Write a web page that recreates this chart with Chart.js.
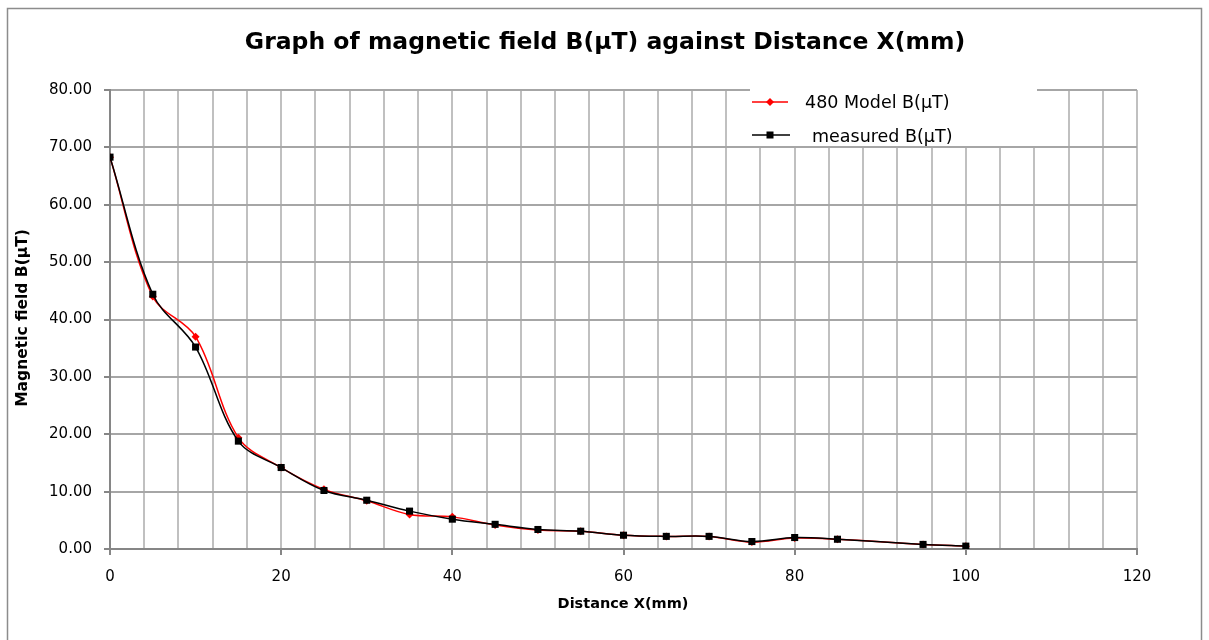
<!DOCTYPE html>
<html>
<head>
<meta charset="utf-8">
<script src="https://cdn.jsdelivr.net/npm/chart.js@4"></script>
<style>
  html, body { margin: 0; padding: 0; background: #fff; }
  canvas { display: block; }
</style>
</head>
<body>
<canvas id="fieldChart" width="1209" height="640"></canvas>
<script>
// distance in mm
const distance = [0, 5, 10, 15, 20, 25, 30, 35, 40, 45, 50, 55, 60, 65, 70, 75, 80, 85, 95, 100];
// B in microtesla
const modelB = [68.3, 44.0, 37.0, 19.4, 14.2, 10.4, 8.4, 6.0, 5.6, 4.2, 3.3, 3.1, 2.4, 2.2, 2.2, 1.2, 1.9, 1.7, 0.8, 0.5];
const measuredB = [68.3, 44.4, 35.2, 18.8, 14.2, 10.2, 8.5, 6.6, 5.2, 4.3, 3.4, 3.1, 2.4, 2.2, 2.2, 1.3, 2.0, 1.7, 0.8, 0.5];
const seriesNames = ['480 Model B(\u03BCT)', 'measured B(\u03BCT)'];
const titleText = 'Graph of magnetic field B(\u03BCT) against Distance X(mm)';
const xTitle = 'Distance X(mm)';
const yTitle = 'Magnetic field B(\u03BCT)';

function toPoints(xs, ys) {
    return xs.map((x, i) => ({ x: x, y: ys[i] }));
}

const decor = {
    id: 'decor',
    beforeDraw(chart) {
        const ctx = chart.ctx;
        ctx.save();
        ctx.fillStyle = '#fff';
        ctx.fillRect(0, 0, chart.width, chart.height);
        ctx.strokeStyle = '#8c8c8c';
        ctx.lineWidth = 1.5;
        ctx.strokeRect(7.5, 8.5, 1194, 700);
        ctx.restore();
    },
    beforeDatasetsDraw(chart) {
        // legend background hides the grid behind it
        const ctx = chart.ctx;
        ctx.save();
        ctx.fillStyle = '#fff';
        ctx.fillRect(750, 85, 287, 61);
        ctx.restore();
    },
    afterDraw(chart) {
        const ctx = chart.ctx;
        ctx.save();
        ctx.fillStyle = '#000';
        ctx.textAlign = 'center';
        ctx.textBaseline = 'middle';
        ctx.font = 'bold 23.5px "DejaVu Sans"';
        ctx.fillText(titleText, 605, 43);

        ctx.font = 'bold 14.5px "DejaVu Sans"';
        ctx.fillText(xTitle, 623, 604);
        ctx.translate(23, 318);
        ctx.rotate(-Math.PI / 2);
        ctx.font = 'bold 15.5px "DejaVu Sans"';
        ctx.fillText(yTitle, 0, 0);
        ctx.restore();

        // legend
        ctx.save();
        ctx.lineWidth = 1.5;
        ctx.strokeStyle = '#ff0000';
        ctx.beginPath(); ctx.moveTo(752, 102); ctx.lineTo(788, 102); ctx.stroke();
        ctx.fillStyle = '#ff0000';
        ctx.beginPath(); ctx.moveTo(770, 98); ctx.lineTo(774, 102); ctx.lineTo(770, 106); ctx.lineTo(766, 102); ctx.closePath(); ctx.fill();
        ctx.strokeStyle = '#000';
        ctx.beginPath(); ctx.moveTo(752, 135); ctx.lineTo(790, 135); ctx.stroke();
        ctx.fillStyle = '#000';
        ctx.fillRect(766.5, 131.5, 7, 7);
        ctx.font = '17.5px "DejaVu Sans"';
        ctx.textAlign = 'left';
        ctx.textBaseline = 'middle';
        ctx.fillText(seriesNames[0], 805, 103);
        ctx.fillText(seriesNames[1], 812, 137);
        ctx.restore();
    }
};

const ctx = document.getElementById('fieldChart').getContext('2d');
new Chart(ctx, {
    type: 'line',
    data: {
        datasets: [{
            label: seriesNames[0],
            data: toPoints(distance, modelB),
            borderColor: '#ff0000',
            backgroundColor: '#ff0000',
            borderWidth: 1.5,
            pointStyle: 'rectRot',
            pointRadius: 4,
            pointBorderWidth: 0,
            tension: 0.35,
            order: 1
        }, {
            label: seriesNames[1],
            data: toPoints(distance, measuredB),
            borderColor: '#000000',
            backgroundColor: '#000000',
            borderWidth: 1.5,
            pointStyle: 'rect',
            pointRadius: 5,
            pointBorderWidth: 0,
            tension: 0.35,
            order: 0
        }]
    },
    options: {
        responsive: false,
        animation: false,
        devicePixelRatio: 1,
        layout: { padding: { left: 50, top: 90, right: 72, bottom: 51 } },
        plugins: {
            legend: { display: false },
            title: { display: false },
            tooltip: { enabled: false }
        },
        scales: {
            x: {
                type: 'linear',
                min: 0,
                max: 120,
                afterFit: s => { s.height = 40; },
                ticks: {
                    stepSize: 4,
                    autoSkip: false,
                    maxRotation: 0,
                    padding: 13,
                    color: '#000',
                    font: { family: 'DejaVu Sans', size: 15 },
                    callback: v => (v % 20 === 0 ? String(v) : '')
                },
                grid: {
                    color: '#c0c0c0',
                    lineWidth: 2,
                    tickLength: 6,
                    tickColor: c => (c.tick && c.tick.value % 20 === 0 ? '#868686' : 'rgba(0,0,0,0)')
                },
                border: { color: '#868686', width: 2 }
            },
            y: {
                min: 0,
                max: 80,
                afterFit: s => { s.width = 60; },
                ticks: {
                    stepSize: 10,
                    padding: 12,
                    color: '#000',
                    font: { family: 'DejaVu Sans', size: 15 },
                    callback: v => v.toFixed(2)
                },
                grid: {
                    color: '#a6a6a6',
                    lineWidth: 2,
                    tickLength: 6,
                    tickColor: '#868686'
                },
                border: { color: '#868686', width: 2 }
            }
        }
    },
    plugins: [decor]
});
</script>
</body>
</html>
